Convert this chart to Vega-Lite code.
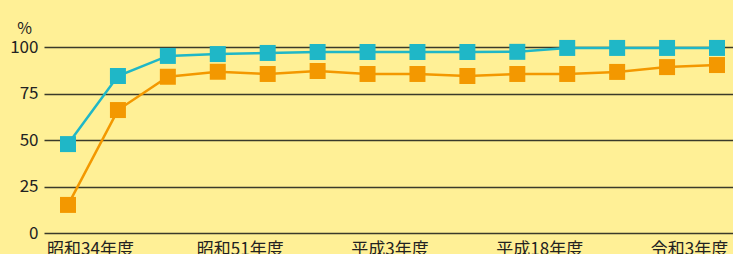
{
  "$schema": "https://vega.github.io/schema/vega-lite/v6.json",
  "autosize": "none",
  "padding": {"left": 44, "top": 47, "right": 0, "bottom": 21},
  "width": 697,
  "height": 186,
  "background": "#FFF096",
  "config": {
    "view": {"stroke": null},
    "font": "Noto Sans CJK JP"
  },
  "data": {
    "values": [
      {"year": "昭和34年度", "series": "系列1", "value": 47.8},
      {"year": "昭和40年度", "series": "系列1", "value": 84.4},
      {"year": "昭和45年度", "series": "系列1", "value": 95.2},
      {"year": "昭和51年度", "series": "系列1", "value": 96.2},
      {"year": "昭和56年度", "series": "系列1", "value": 96.8},
      {"year": "昭和61年度", "series": "系列1", "value": 97.3},
      {"year": "平成3年度", "series": "系列1", "value": 97.3},
      {"year": "平成8年度", "series": "系列1", "value": 97.3},
      {"year": "平成13年度", "series": "系列1", "value": 97.3},
      {"year": "平成18年度", "series": "系列1", "value": 97.4},
      {"year": "平成23年度", "series": "系列1", "value": 99.5},
      {"year": "平成28年度", "series": "系列1", "value": 99.5},
      {"year": "令和3年度", "series": "系列1", "value": 99.5},
      {"year": "令和4年度", "series": "系列1", "value": 99.5},
      {"year": "昭和34年度", "series": "系列2", "value": 15.1},
      {"year": "昭和40年度", "series": "系列2", "value": 66.1},
      {"year": "昭和45年度", "series": "系列2", "value": 84.0},
      {"year": "昭和51年度", "series": "系列2", "value": 86.7},
      {"year": "昭和56年度", "series": "系列2", "value": 85.5},
      {"year": "昭和61年度", "series": "系列2", "value": 87.1},
      {"year": "平成3年度", "series": "系列2", "value": 85.5},
      {"year": "平成8年度", "series": "系列2", "value": 85.5},
      {"year": "平成13年度", "series": "系列2", "value": 84.4},
      {"year": "平成18年度", "series": "系列2", "value": 85.5},
      {"year": "平成23年度", "series": "系列2", "value": 85.5},
      {"year": "平成28年度", "series": "系列2", "value": 86.6},
      {"year": "令和3年度", "series": "系列2", "value": 89.2},
      {"year": "令和4年度", "series": "系列2", "value": 90.3}
    ]
  },
  "encoding": {
    "x": {
      "field": "year",
      "type": "ordinal",
      "sort": null,
      "scale": {"type": "point", "padding": 0.481},
      "axis": {
        "title": null,
        "values": ["昭和34年度", "昭和51年度", "平成3年度", "平成18年度", "令和3年度"],
        "labelAngle": 0,
        "labelFontSize": 17,
        "labelColor": "#222222",
        "labelOffset": 22,
        "labelPadding": 8,
        "labelOverlap": false,
        "labelBound": false,
        "ticks": false,
        "domain": false,
        "grid": false
      }
    },
    "y": {
      "field": "value",
      "type": "quantitative",
      "scale": {"domain": [0, 100], "nice": false},
      "axis": {
        "values": [0, 25, 50, 75, 100],
        "title": "%",
        "titleAngle": 0,
        "titleX": -20,
        "titleY": -19,
        "titleAlign": "center",
        "titleBaseline": "middle",
        "titleFontSize": 16,
        "titleFontWeight": "normal",
        "titleColor": "#222222",
        "labelFontSize": 17,
        "labelColor": "#222222",
        "labelPadding": 6,
        "ticks": false,
        "domain": false,
        "grid": true,
        "gridColor": "#3a3a2a",
        "gridWidth": 1.3
      }
    },
    "color": {
      "field": "series",
      "type": "nominal",
      "scale": {"domain": ["系列1", "系列2"], "range": ["#1FB7C7", "#F39800"]},
      "legend": null
    }
  },
  "layer": [
    {"mark": {"type": "line", "strokeWidth": 2.5}},
    {"mark": {"type": "point", "shape": "square", "filled": true, "size": 256, "opacity": 1}}
  ]
}
